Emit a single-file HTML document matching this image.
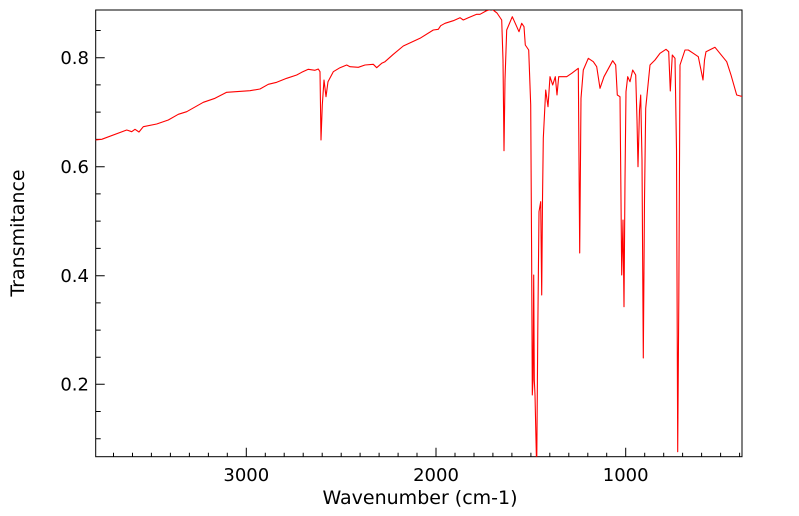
<!DOCTYPE html>
<html><head><meta charset="utf-8"><style>html,body{margin:0;padding:0;background:#fff}svg{display:block}</style></head>
<body>
<svg width="799" height="516" xmlns="http://www.w3.org/2000/svg" font-family="'DejaVu Sans','Liberation Sans',sans-serif">
<rect width="799" height="516" fill="#fff"/>
<g stroke="#000" stroke-width="1">
<rect x="95.7" y="10" width="646.3" height="446.7" fill="none"/>
<path d="M95.7 57.7h9M95.7 166.7h9M95.7 275.7h9M95.7 384.3h9M95.7 30.5h5M95.7 84.9h5M95.7 112.1h5M95.7 139.4h5M95.7 193.9h5M95.7 221.1h5M95.7 248.4h5M95.7 302.9h5M95.7 330.1h5M95.7 357.2h5M95.7 411.5h5M95.7 438.7h5"/>
<path d="M246.3 456.7v-9M436 456.7v-9M625.7 456.7v-9
M113.5 456.7v-4M132.5 456.7v-4M151.4 456.7v-4M170.4 456.7v-4M189.4 456.7v-4M208.4 456.7v-4M227.3 456.7v-4
M265.3 456.7v-4M284.2 456.7v-4M303.2 456.7v-4M322.2 456.7v-4M341.2 456.7v-4M360.1 456.7v-4M379.1 456.7v-4M398.1 456.7v-4M417 456.7v-4
M455 456.7v-4M474 456.7v-4M492.9 456.7v-4M511.9 456.7v-4M530.9 456.7v-4M549.8 456.7v-4M568.8 456.7v-4M587.8 456.7v-4M606.7 456.7v-4
M644.7 456.7v-4M663.7 456.7v-4M682.6 456.7v-4M701.6 456.7v-4M720.6 456.7v-4M739.6 456.7v-4"/>
</g>
<g font-size="18" fill="#000" text-anchor="end">
<text x="89" y="64">0.8</text><text x="89" y="173">0.6</text><text x="89" y="282">0.4</text><text x="89" y="390.5">0.2</text>
</g>
<g font-size="18" fill="#000" text-anchor="middle">
<text x="246.3" y="481">3000</text><text x="436" y="481">2000</text><text x="625.7" y="481">1000</text>
<text x="420" y="504" font-size="19">Wavenumber (cm-1)</text>
<text transform="translate(24,233) rotate(-90)" font-size="19">Transmitance</text>
</g>
<svg x="95.7" y="10" width="646.3" height="446.7" viewBox="95.7 10 646.3 446.7" overflow="hidden">
<polyline fill="none" stroke="#ff0000" stroke-width="1.1" stroke-linejoin="round" points="
95,140 101.7,139.3 126.7,130 131.7,131.7 135,129.3 139,132 143.3,126.7 156.7,124 168.3,120 178.3,114.3 186.7,111.7 203.3,102.3 215,98.3 226.7,92.3 250,90.7 260,89 268.3,84.3 276.7,82.3 286.7,78.3 296.7,75 301.7,72.3 308.3,69.3 315,70.3 318.3,69 320,71.7 321,140 322.3,105 324,80 326,96.7 328,81.7 333.3,71.7 340,67.7 346.7,65 350,66.7 358.3,67.3 365,65 373.3,64.3 376.7,67.7 381.7,63.3 385,61.7 393.3,54.3 403.3,46 420,38.3 433.3,30 438.3,29.3 440.7,25.7 445,23.3 453.3,20.7 460,17.7 463.3,20 468.3,17.7 476.7,14.3 480,14.3 486,11 491.7,9 497,13 501.7,20 503,60 504,150.7 505,80 506.7,30 512.3,16.7 519,31.7 521.7,23.3 524,26.7 525.3,45 528.7,50 530.7,105 531.6,250 532.3,395 533,380 533.7,275 534.3,380 535,395 536,440 536.7,470 537.8,330 539,211.7 540.7,201.7 541.7,295 542.5,200 543.3,138.3 545.7,90 548,106.7 550,76.7 552.7,85 555.3,76.7 557,95 558.7,76.7 566.7,76.7 571.7,73.3 578.3,68.3 579.7,253 581,98.3 583.3,70 588.3,58.3 593.3,61.7 596.7,66.7 600,88.3 604,76.7 612.7,60.7 615.7,65 617.3,95 620,96.7 621,200 621.7,275 623,220 624,306.7 625,180 626,91.7 627.7,76.7 630,81.7 632.7,70 635.7,75 637,120 638,166.7 639.5,110 640.7,95 642,160 643.3,358 644.5,200 645.7,108.3 650,65 655,60 660,53.3 666,49.3 668.7,51.7 670.3,91 672.3,55 675,58.3 676.5,150 677.7,451.7 678.8,300 680,65 685,50 688.3,50 693.3,53.3 698.3,56.7 701,70 703,80 704.5,60 706,51.7 715,47.3 726.7,61.7 731,75 736.7,95 743,96.7"/>
</svg>
</svg>
</body></html>
